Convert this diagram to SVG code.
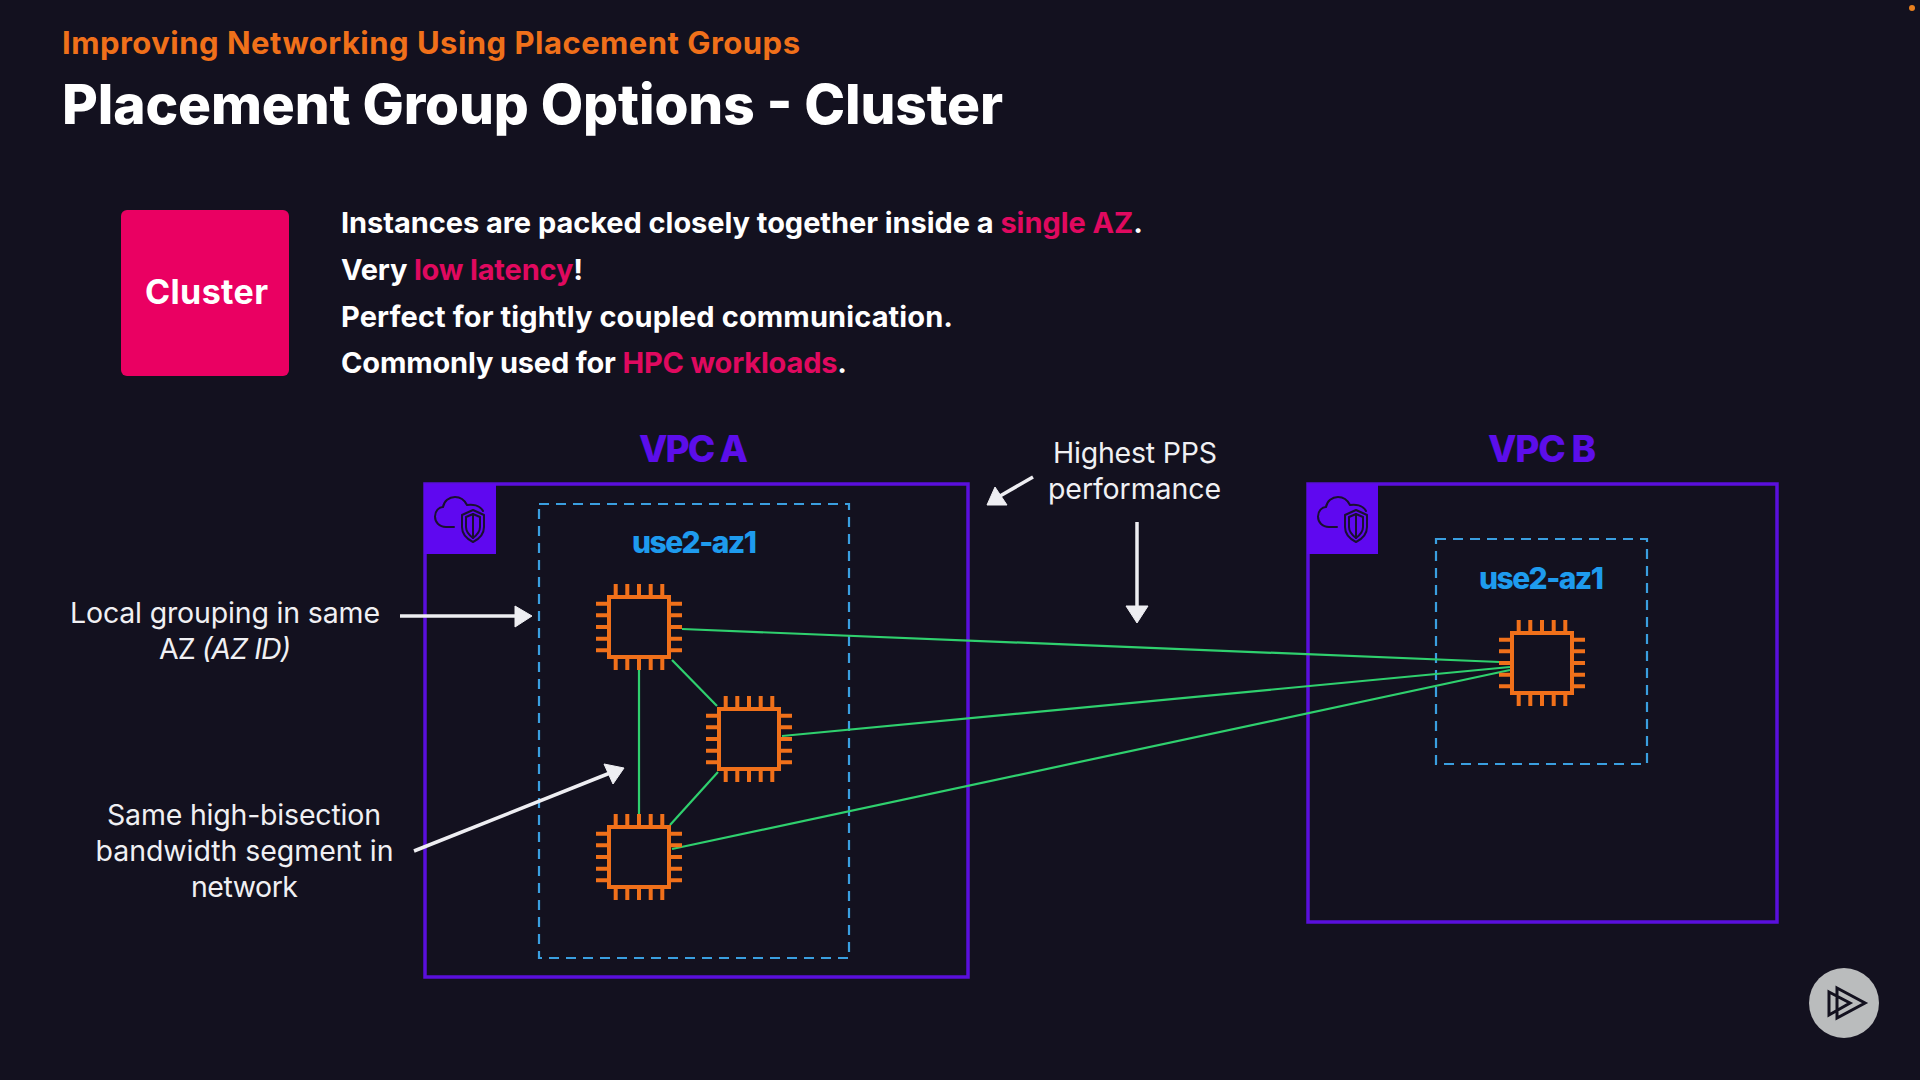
<svg xmlns="http://www.w3.org/2000/svg" width="1920" height="1080" viewBox="0 0 1920 1080">
<defs>
<style>
text{font-family:"Inter","Liberation Sans",sans-serif}
.w{fill:#ffffff}
.p{fill:#e0095f}
.vpc{font-size:37px;font-weight:800;fill:#5c0eea}
.az{font-size:30px;font-weight:800;fill:#1e9bee}
.lbl{font-size:28.500px;font-weight:400;fill:#f0f0f3}
.body{font-size:29px;font-weight:700;fill:#ffffff}
.frame{fill:none;stroke:#5a0fdc;stroke-width:3.500}
.dash{fill:none;stroke:#3a9fe0;stroke-width:2.200;stroke-dasharray:10 7}
.tile{fill:#5f08f0}
.ic{fill:none;stroke:#1a1030;stroke-width:2;stroke-linecap:round;stroke-linejoin:round}
.chip{fill:none;stroke:#f0701a;stroke-width:4}
.g{stroke:#2fd06e;stroke-width:2.200;fill:none}
.ar{stroke:#eeeef2;stroke-width:3.500;fill:none}
.ah{fill:#eeeef2;stroke:#eeeef2;stroke-width:1;stroke-linejoin:round}
</style>
<g id="chipShape">
<rect class="chip" x="-30" y="-30" width="60" height="60"/>
<path class="chip" d="M-23.300-31V-43M-11.700-31V-43M0-31V-43M11.700-31V-43M23.300-31V-43M-23.300 31V43M-11.700 31V43M0 31V43M11.700 31V43M23.300 31V43M-31-23.300H-43M-31-11.700H-43M-31 0H-43M-31 11.700H-43M-31 23.300H-43M31-23.300H43M31-11.700H43M31 0H43M31 11.700H43M31 23.300H43"/>
</g>
<g id="vpcIcon">
<path class="ic" d="M30 43H22C15 43 11 38 11 32.500C11 27 15 23 19 23C20 17 25 13 31 13C37 13 41 17 43 21C48 20 56 21 59 27"/>
<path class="ic" d="M38 31L49 26L60 31V43C60 50 55 55 49 58C43 55 38 50 38 43Z"/>
<path class="ic" d="M42 33L49 30L56 33V43C56 48 53 51 49 54C45 51 42 48 42 43Z"/>
<path class="ic" d="M49 30V54"/>
</g>
</defs>
<rect width="1920" height="1080" fill="#13111f"/>
<circle cx="1912" cy="8" r="3" fill="#e8801f"/>

<g id="header">
<text x="62" y="54" font-size="31" font-weight="700" fill="#f0701a" textLength="738">Improving Networking Using Placement Groups</text>
<text x="62" y="124" font-size="55" font-weight="800" class="w" textLength="941">Placement Group Options - Cluster</text>
</g>

<g id="cluster-badge">
<rect x="121" y="210" width="168" height="166" rx="6" fill="#ea0062"/>
<text x="145" y="304" font-size="34" font-weight="700" class="w" textLength="123">Cluster</text>
</g>

<g id="description">
<text class="body" x="341" y="233" textLength="802">Instances are packed closely together inside a <tspan class="p">single AZ</tspan>.</text>
<text class="body" x="341" y="279.500" textLength="242">Very <tspan class="p">low latency</tspan>!</text>
<text class="body" x="341" y="326.500" textLength="612">Perfect for tightly coupled communication.</text>
<text class="body" x="341" y="373" textLength="506">Commonly used for <tspan class="p">HPC workloads</tspan>.</text>
</g>

<g id="vpc-a">
<rect class="frame" x="425" y="484" width="543" height="493"/>
<rect class="tile" x="424" y="484" width="72" height="70"/>
<use href="#vpcIcon" x="424" y="484"/>
<text class="vpc" x="639" y="462" textLength="109">VPC A</text>
</g>
<g id="az-a">
<rect class="dash" x="539" y="504" width="310" height="454"/>
<text class="az" x="632" y="553" textLength="125">use2-az1</text>
</g>
<g id="vpc-b">
<rect class="frame" x="1308" y="484" width="469" height="438"/>
<rect class="tile" x="1307" y="484" width="71" height="70"/>
<use href="#vpcIcon" x="1307" y="484"/>
<text class="vpc" x="1488" y="462" textLength="108">VPC B</text>
</g>
<g id="az-b">
<rect class="dash" x="1436" y="539" width="211" height="225"/>
<text class="az" x="1479" y="588.500" textLength="125">use2-az1</text>
</g>

<g id="connectors">
<path class="g" d="M682 629L1500 662"/>
<path class="g" d="M782 736L1510 667"/>
<path class="g" d="M672 849L1510 670"/>
<path class="g" d="M639 670V814"/>
<path class="g" d="M672 660L717 706"/>
<path class="g" d="M718 772L670 825"/>
<path class="ar" d="M400 616H516"/>
<path class="ah" d="M515 606L532 616L515 627Z"/>
<path class="ar" d="M414 851L610 773"/>
<path class="ah" d="M604 764L624 768L613 784Z"/>
<path class="ar" d="M1033 477L1000 496"/>
<path class="ah" d="M987 505L995 487L1007 505Z"/>
<path class="ar" d="M1137 522V608"/>
<path class="ah" d="M1126 606H1148L1137 623Z"/>
</g>

<g id="chip-1"><use href="#chipShape" x="639" y="627"/></g>
<g id="chip-2"><use href="#chipShape" x="749" y="739"/></g>
<g id="chip-3"><use href="#chipShape" x="639" y="857"/></g>
<g id="chip-4"><use href="#chipShape" x="1542" y="663"/></g>

<g id="label-local">
<text class="lbl" x="70" y="623" textLength="310">Local grouping in same</text>
<text class="lbl" x="159" y="659" textLength="132">AZ <tspan font-style="italic">(AZ ID)</tspan></text>
</g>
<g id="label-segment">
<text class="lbl" x="107" y="825" textLength="274">Same high-bisection</text>
<text class="lbl" x="95.500" y="861" textLength="298">bandwidth segment in</text>
<text class="lbl" x="191" y="897" textLength="107">network</text>
</g>
<g id="label-pps">
<text class="lbl" x="1053" y="463" textLength="164">Highest PPS</text>
<text class="lbl" x="1048" y="499" textLength="173">performance</text>
</g>

<g id="logo">
<circle cx="1844" cy="1003" r="35" fill="#babcbd"/>
<path d="M1837 988L1865 1003L1837 1018Z M1829 992L1850 1003L1829 1015Z" fill="none" stroke="#13111f" stroke-width="3"/>
</g>
</svg>
